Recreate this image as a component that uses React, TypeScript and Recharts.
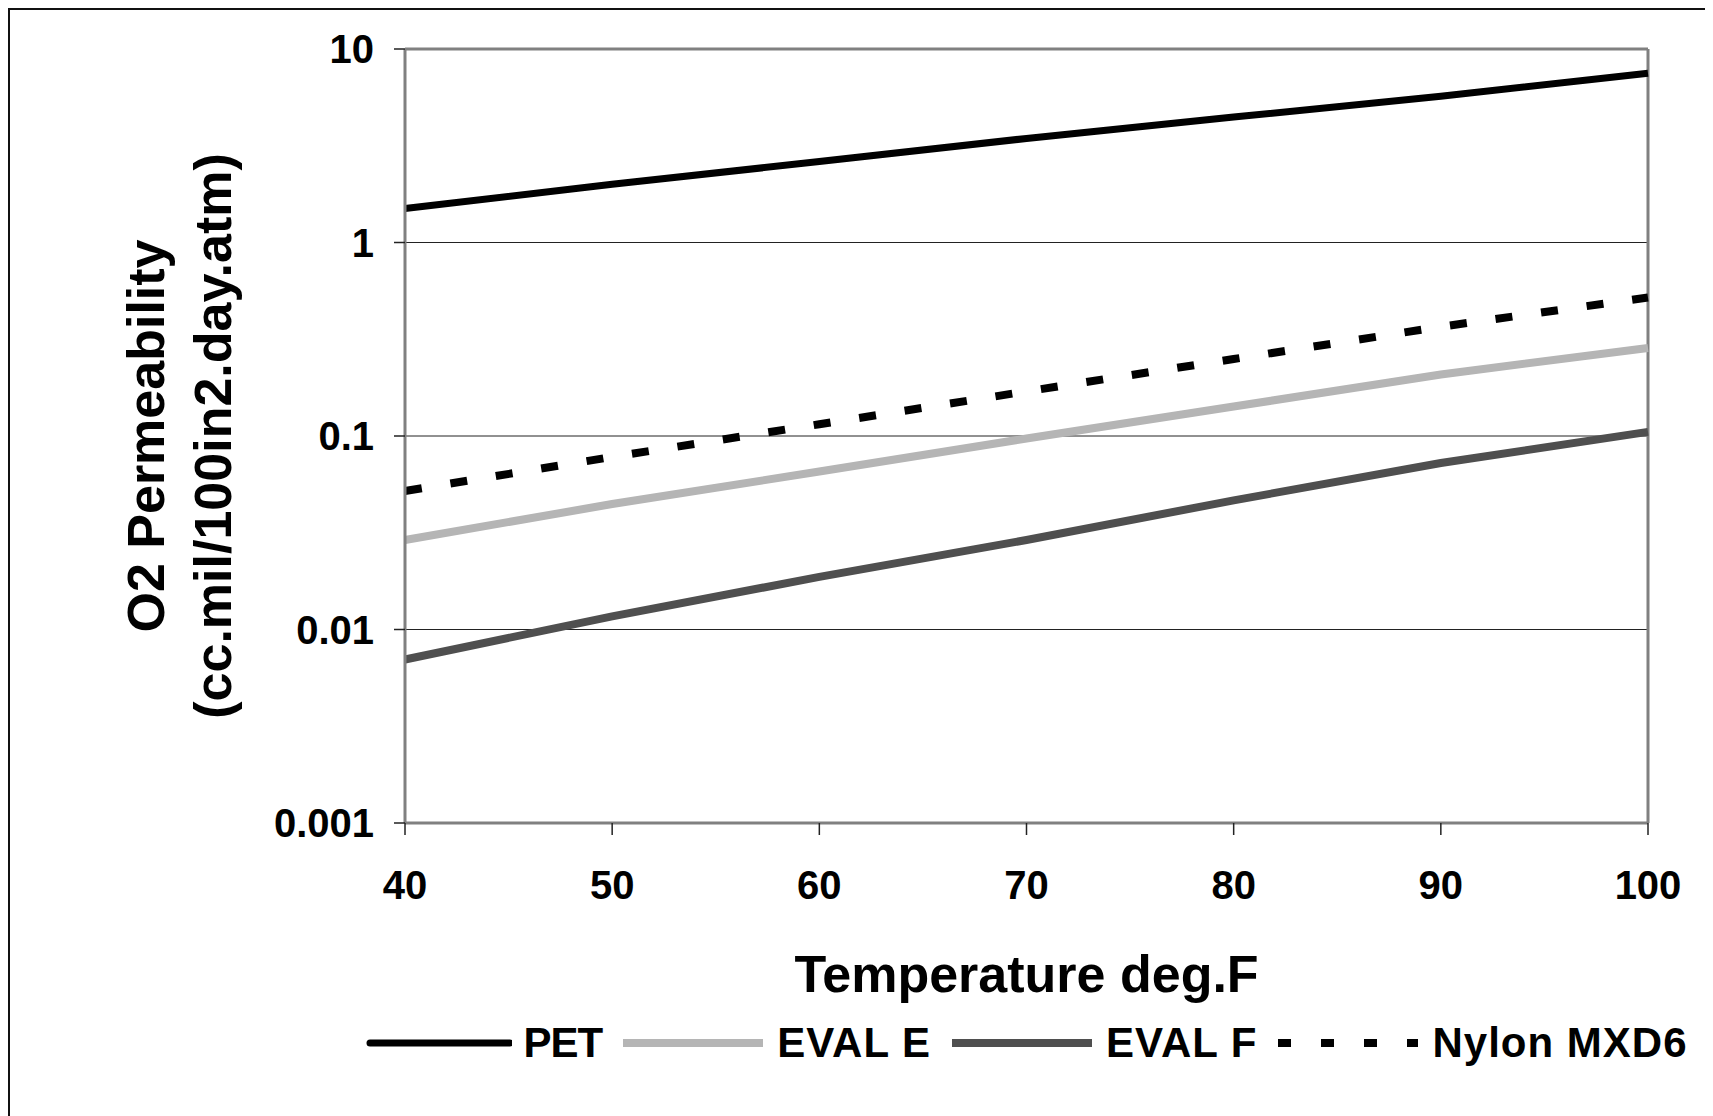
import { LineChart, Line, XAxis, YAxis, CartesianGrid, Legend, ReferenceLine } from 'recharts';

// temperature, deg.F
const temps = [40, 50, 60, 70, 80, 90, 100];

// O2 permeability, cc.mil/100in2.day.atm
const pet = [1.5, 2.0, 2.62, 3.45, 4.45, 5.7, 7.5];
const evalE = [0.029, 0.0445, 0.0655, 0.097, 0.142, 0.208, 0.285];
const evalF = [0.007, 0.0117, 0.0187, 0.029, 0.0465, 0.0725, 0.105];
const nylon = [0.052, 0.078, 0.115, 0.17, 0.25, 0.367, 0.52];

const xTicks = [40, 50, 60, 70, 80, 90, 100];
const yTicks = [0.001, 0.01, 0.1, 1, 10];
const yTickLabels = ['0.001', '0.01', '0.1', '1', '10'];

const FONT = '"Liberation Sans", Arial, sans-serif';

const SERIES = [
  { key: 'pet', name: 'PET', color: '#000000', width: 7, dash: undefined as string | undefined },
  { key: 'evalE', name: 'EVAL E', color: '#b5b5b5', width: 8, dash: undefined },
  { key: 'evalF', name: 'EVAL F', color: '#4f4f4f', width: 8, dash: undefined },
  { key: 'nylon', name: 'Nylon MXD6', color: '#000000', width: 8, dash: '17 29' },
];

const data = temps.map((t, i) => ({
  temp: t,
  pet: pet[i],
  evalE: evalE[i],
  evalF: evalF[i],
  nylon: nylon[i],
}));

const renderLegend = () => (
  <div
    style={{
      display: 'flex',
      justifyContent: 'center',
      alignItems: 'center',
      height: 60,
      whiteSpace: 'nowrap',
      fontFamily: FONT,
      fontWeight: 'bold',
      fontSize: 42,
      color: '#000',
    }}
  >
    {SERIES.map((s, i) => (
      <div
        key={s.key}
        style={{ display: 'flex', alignItems: 'center', marginRight: i < SERIES.length - 1 ? 17 : 0 }}
      >
        <svg width={146} height={20} style={{ marginRight: 12 }}>
          <line
            x1={s.dash ? 4 : 4}
            y1={10}
            x2={144}
            y2={10}
            stroke={s.color}
            strokeWidth={s.width}
            strokeLinecap={s.key === 'pet' ? 'round' : 'butt'}
            strokeDasharray={s.dash ? '13 30' : undefined}
          />
        </svg>
        <span style={{ letterSpacing: s.key === 'pet' ? -1 : 1 }}>{s.name}</span>
      </div>
    ))}
  </div>
);

const renderYLabel = (props: any) => {
  const vb = props.viewBox;
  const cy = vb.y + vb.height / 2;
  const cx = 156;
  return (
    <text
      transform={`rotate(-90, ${cx}, ${cy})`}
      x={cx}
      y={cy}
      textAnchor="middle"
      fontFamily={FONT}
      fontWeight="bold"
      fontSize={52}
      fill="#000"
    >
      <tspan x={cx} dy={0}>O2 Permeability</tspan>
      <tspan x={cx} dy={67}>(cc.mil/100in2.day.atm)</tspan>
    </text>
  );
};

const renderXLabel = (props: any) => {
  const vb = props.viewBox;
  return (
    <text
      x={vb.x + vb.width / 2}
      y={vb.y + 169}
      textAnchor="middle"
      fontFamily={FONT}
      fontWeight="bold"
      fontSize={52}
      fill="#000"
    >
      Temperature deg.F
    </text>
  );
};

export default function App() {
  return (
    <div style={{ position: 'relative', width: 1705, height: 1108 }}>
      <div
        style={{
          position: 'absolute',
          left: 0,
          top: 0,
          width: 1705,
          height: 1108,
          borderTop: '2px solid #111',
          borderLeft: '2px solid #111',
          boxSizing: 'border-box',
          pointerEvents: 'none',
        }}
      />
      <LineChart
        width={1705}
        height={1108}
        data={data}
        margin={{ top: 41, right: 65, bottom: 43, left: 0 }}
        style={{ fontFamily: FONT }}
      >
        <CartesianGrid horizontal vertical={false} stroke="#222" strokeWidth={1} />
        <XAxis
          dataKey="temp"
          type="number"
          domain={[40, 100]}
          ticks={xTicks}
          height={190}
          tickSize={12}
          tickMargin={36}
          axisLine={{ stroke: '#808080', strokeWidth: 3 }}
          tickLine={{ stroke: '#222', strokeWidth: 1.5 }}
          tick={{ fontSize: 40, fontWeight: 'bold', fill: '#000', fontFamily: FONT }}
          label={{ content: renderXLabel }}
        />
        <YAxis
          type="number"
          scale="log"
          domain={[0.001, 10]}
          ticks={yTicks}
          allowDataOverflow
          width={397}
          tickSize={11}
          tickMargin={20}
          tickFormatter={(v: number) => yTickLabels[yTicks.indexOf(v)] ?? String(v)}
          axisLine={{ stroke: '#808080', strokeWidth: 3 }}
          tickLine={{ stroke: '#222', strokeWidth: 1.5 }}
          tick={{ fontSize: 40, fontWeight: 'bold', fill: '#000', fontFamily: FONT }}
          label={{ content: renderYLabel }}
        />
        <ReferenceLine y={10} stroke="#808080" strokeWidth={3} />
        <ReferenceLine x={100} stroke="#808080" strokeWidth={3} />
        {SERIES.map((s) => (
          <Line
            key={s.key}
            type="linear"
            dataKey={s.key}
            name={s.name}
            stroke={s.color}
            strokeWidth={s.width}
            strokeDasharray={s.dash}
            dot={false}
            isAnimationActive={false}
          />
        ))}
        <Legend
          verticalAlign="bottom"
          height={60}
          content={renderLegend}
          wrapperStyle={{ left: 397, width: 1243 }}
        />
      </LineChart>
    </div>
  );
}
